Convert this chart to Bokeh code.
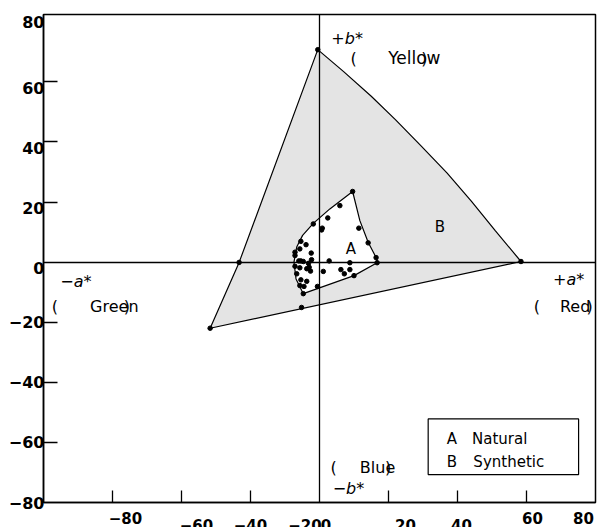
from bokeh.plotting import figure
from bokeh.models import Label, BoxAnnotation, FixedTicker, Range1d, LinearAxis
from bokeh.embed import file_html
from bokeh.resources import INLINE

# ---------------- data ----------------
# Natural gemstones (region A): individual measurements (a*, b*)
natural_a = [9.6, 5.9, 2.4, -1.8, 0.8, 0.6, 11.4, -5.4, -3.9, -5.7, -7.1, -2.4, -7.1, 14.1,
             -6.0, -5.4, -4.7, -2.3, -3.2, 2.8, 8.8, 16.4, 16.7, -7.1, -5.7, -3.0, -3.7,
             -2.6, 1.1, 6.2, 8.8, 7.2, 10.0, -6.6, -5.4, -3.7, -5.7, -4.5, -0.6, -4.7]
natural_b = [23.5, 18.8, 14.7, 12.7, 11.3, 10.7, 11.3, 6.9, 5.8, 4.4, 3.3, 3.0, 2.2, 6.4,
             0.4, 0.4, 0.2, 0.8, -0.4, 0.4, -0.2, 1.5, -0.2, -1.4, -1.9, -1.7, -2.2,
             -3.0, -3.1, -2.5, -2.5, -3.9, -4.5, -3.9, -5.9, -6.4, -7.8, -8.1, -8.1, -10.5]
# Natural gamut outline (A)
natural_edge_a = [9.6, 3.0, -1.8, -4.9, -6.6, -7.4, -6.8, -4.7, 10.0, 16.7, 16.6, 14.1, 11.7]
natural_edge_b = [23.5, 17.7, 12.9, 8.9, 5.0, 0.0, -5.6, -10.5, -4.5, -0.2, 1.1, 6.6, 13.8]
# Synthetic gamut outline (B)
synthetic_edge_a = [-0.5, 7.0, 15.0, 22.0, 29.5, 37.0, 44.0, 51.0, 58.4, -31.7, -23.3]
synthetic_edge_b = [70.7, 63.4, 55.2, 47.4, 38.6, 29.6, 20.3, 10.4, 0.2, -22.0, -0.1]
# Synthetic measured points
synthetic_a = [-0.5, 58.4, -31.7, -23.3, -5.2]
synthetic_b = [70.7, 0.2, -22.0, -0.1, -15.1]

x_ticks = [-80, -60, -40, -20, 0, 20, 40, 60, 80]
x_tick_labels = ["\u221280", "\u221260", "\u221240", "\u221220", "0", "20", "40", "60", "80"]
y_ticks = [80, 60, 40, 20, 0, -20, -40, -60, -80]
y_tick_labels = ["80", "60", "40", "20", "0", "\u221220", "\u221240", "\u221260", "\u221280"]
mark_ticks = [-60, -40, -20, 20, 40, 60]

# ---------------- styling / layout ----------------
x_label_dx = [82, 84, 69, 54.5, 6.5, 17, 4, 6, -12]
x_label_dy = [15.5, 22, 22, 22, 22, 22, 22, 15.5, 15.5]
y_label_base = ["middle", "top", "top", "top", "top", "middle", "middle", "middle", "middle"]

FONT = "DejaVu Sans"
W, H = 599, 527
box_l, box_r, box_t, box_b = 43, 595, 14, 502        # pixel edges of the drawn box
XMIN, XMAX, YMIN, YMAX = -80, 80, -80, 82.4           # data extent of the box
sx = (box_r - box_l) / (XMAX - XMIN)
sy = (box_b - box_t) / (YMAX - YMIN)

p = figure(width=W, height=H,
           x_range=Range1d(XMIN - box_l / sx, XMAX + (W - box_r) / sx),
           y_range=Range1d(YMIN - (H - box_b) / sy, YMAX + box_t / sy),
           output_backend="svg", toolbar_location=None,
           min_border=0, min_border_left=0, min_border_right=0,
           min_border_top=0, min_border_bottom=0)
p.background_fill_color = "white"
p.border_fill_color = "white"
p.outline_line_color = None
p.xgrid.visible = False
p.ygrid.visible = False


def style_axis(ax, ticks, tin, bounds):
    ax.ticker = FixedTicker(ticks=ticks)
    ax.bounds = bounds
    ax.major_tick_in = tin
    ax.major_tick_out = 0
    ax.minor_tick_in = 0
    ax.minor_tick_out = 0
    ax.major_tick_line_color = "black"
    ax.major_tick_line_width = 1.3
    ax.axis_line_color = "black"
    ax.axis_line_width = 1.5
    ax.major_label_overrides = {t: "" for t in ticks}
    ax.major_label_text_font_size = "1px"


# frame axes
p.xaxis[0].fixed_location = YMIN
p.yaxis[0].fixed_location = XMIN
style_axis(p.xaxis[0], mark_ticks, 12, (XMIN, XMAX))
style_axis(p.yaxis[0], mark_ticks, 14, (YMIN, YMAX))

# gamut regions
p.patch(synthetic_edge_a, synthetic_edge_b, fill_color="#e4e4e4", line_color="black", line_width=1.2)
p.patch(natural_edge_a, natural_edge_b, fill_color="white", line_color="black", line_width=1.2)

# axes through the origin
ax0 = LinearAxis(fixed_location=0)
style_axis(ax0, [], 0, (XMIN, XMAX))
ax0.axis_line_width = 1.3
p.add_layout(ax0, "below")
ay0 = LinearAxis(fixed_location=0)
style_axis(ay0, [], 0, (YMIN, YMAX))
ay0.axis_line_width = 1.3
p.add_layout(ay0, "left")

# box around the plot area
p.add_layout(BoxAnnotation(left=XMIN, right=XMAX, bottom=YMIN, top=YMAX,
                           fill_alpha=0, line_color="black", line_width=1.5, line_alpha=1.0))

p.scatter(natural_a, natural_b, size=4.5, color="black")
p.scatter(synthetic_a, synthetic_b, size=4.5, color="black")

# tick labels
for t, lab, dx, dy in zip(x_ticks, x_tick_labels, x_label_dx, x_label_dy):
    p.add_layout(Label(x=t, y=YMIN, x_offset=dx, y_offset=-dy, text=lab,
                       text_font=FONT, text_font_style="bold", text_font_size="15px",
                       text_align="center", text_baseline="middle", text_color="black"))
for t, lab, base in zip(y_ticks, y_tick_labels, y_label_base):
    p.add_layout(Label(x=XMIN, y=t, x_offset=1, y_offset=0, text=lab,
                       text_font=FONT, text_font_style="bold", text_font_size="16px",
                       text_align="right", text_baseline=base, text_color="black"))


def txt(x, y, s, style="normal", align="left", size="16px"):
    p.add_layout(Label(x=x, y=y, text=s, text_font=FONT, text_font_style=style,
                       text_font_size=size, text_align=align, text_baseline="middle",
                       text_color="black"))


# region letters
txt(9.1, 4.5, "A", align="center", size="15px")
txt(34.9, 11.8, "B", align="center", size="15px")

# axis direction labels
txt(8.0, 74.4, "+b*", style="italic", align="center")
txt(9.9, 67.9, "(", align="center")
txt(19.9, 67.9, "Yellow", size="17px")
txt(30.4, 67.9, ")", align="center")

txt(-70.6, -6.5, "\u2212a*", style="italic", align="center")
txt(-76.7, -14.9, "(", align="center")
txt(-66.5, -14.9, "Green")
txt(-55.8, -14.9, ")", align="center")

txt(72.2, -5.8, "+a*", style="italic", align="center")
txt(63.0, -14.8, "(", align="center")
txt(69.7, -14.8, "Red")
txt(78.3, -14.8, ")", align="center")

txt(4.1, -68.3, "(", align="center")
txt(11.7, -68.3, "Blue")
txt(19.9, -68.3, ")", align="center")
txt(8.4, -75.5, "\u2212b*", style="italic", align="center")

# legend box
p.add_layout(BoxAnnotation(left=31.5, right=75.1, bottom=-70.7, top=-52.2,
                           fill_color="white", fill_alpha=1.0,
                           line_color="black", line_width=1.2, line_alpha=1.0))
txt(36.9, -58.9, "A", size="15px")
txt(44.2, -58.9, "Natural", size="15px")
txt(36.9, -66.5, "B", size="15px")
txt(44.6, -66.5, "Synthetic", size="15px")

open("out.html", "w").write(file_html(p, INLINE))
